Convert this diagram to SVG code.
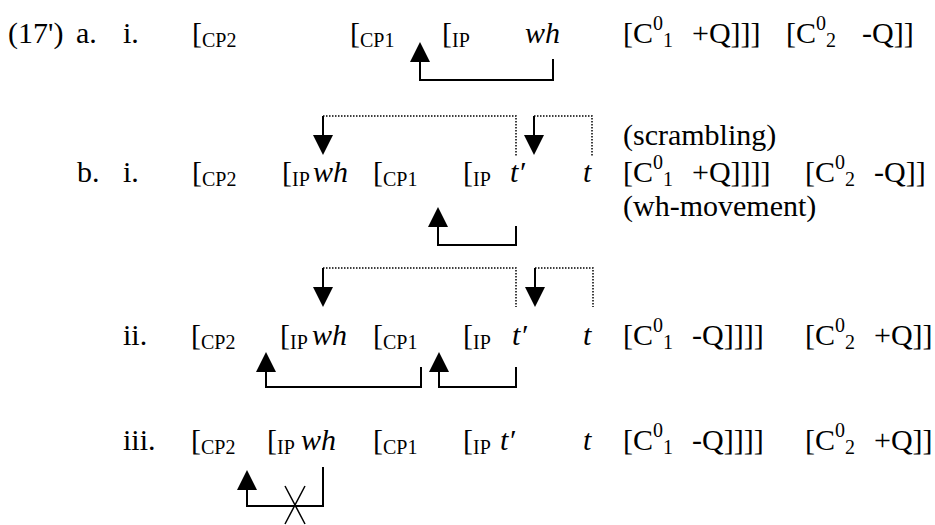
<svg xmlns="http://www.w3.org/2000/svg" width="935" height="525" viewBox="0 0 935 525">
<style>
.t{font-family:"Liberation Serif","Times New Roman",serif;font-size:30px;fill:#000}
.s{font-size:20px}
.i{font-style:italic}
.ln{stroke:#000;stroke-width:2;fill:none}
.dt{stroke:#000;stroke-width:1.5;stroke-dasharray:1.5 1.5;fill:none}
.x{stroke:#000;stroke-width:1.5;fill:none}
</style>
<defs>
<marker id="ah" markerUnits="userSpaceOnUse" markerWidth="20" markerHeight="20" viewBox="0 0 20 20" refX="0" refY="10" orient="auto">
<path d="M0,0 L20,10 L0,20 z" fill="#000"/>
</marker>
</defs>
<rect width="935" height="525" fill="#fff"/>
<g id="row-a" class="t">
<text x="8" y="43">(17')</text>
<text x="76" y="43">a.</text>
<text x="123" y="43">i.</text>
<text x="192" y="43">[<tspan class="s" dy="4">CP2</tspan></text>
<text x="350" y="43">[<tspan class="s" dy="4">CP1</tspan></text>
<text x="442" y="43">[<tspan class="s" dy="4">IP</tspan></text>
<text x="525" y="43" class="i">wh</text>
<text x="623" y="43">[C<tspan class="s" dy="-13">0</tspan><tspan class="s" dy="17">1</tspan><tspan dy="-4" dx="19">+Q]]]</tspan></text>
<text x="786" y="43">[C<tspan class="s" dy="-13">0</tspan><tspan class="s" dy="17">2</tspan><tspan dy="-4" dx="26">-Q]]</tspan></text>
</g>
<g id="row-b" class="t">
<text x="623" y="145">(scrambling)</text>
<text x="77" y="182">b.</text>
<text x="123" y="182">i.</text>
<text x="192" y="182">[<tspan class="s" dy="4">CP2</tspan></text>
<text x="282" y="182">[<tspan class="s" dy="4">IP</tspan></text>
<text x="313" y="182" class="i">wh</text>
<text x="373" y="182">[<tspan class="s" dy="4">CP1</tspan></text>
<text x="463" y="182">[<tspan class="s" dy="4">IP</tspan></text>
<text x="510" y="182" class="i">t′</text>
<text x="583" y="182" class="i">t</text>
<text x="623" y="182">[C<tspan class="s" dy="-13">0</tspan><tspan class="s" dy="17">1</tspan><tspan dy="-4" dx="19">+Q]]]]</tspan></text>
<text x="805" y="182">[C<tspan class="s" dy="-13">0</tspan><tspan class="s" dy="17">2</tspan><tspan dy="-4" dx="19">-Q]]</tspan></text>
<text x="623" y="216">(wh-movement)</text>
</g>
<g id="row-ii" class="t">
<text x="123" y="345">ii.</text>
<text x="191" y="345">[<tspan class="s" dy="4">CP2</tspan></text>
<text x="280" y="345">[<tspan class="s" dy="4">IP</tspan></text>
<text x="312" y="345" class="i">wh</text>
<text x="373" y="345">[<tspan class="s" dy="4">CP1</tspan></text>
<text x="463" y="345">[<tspan class="s" dy="4">IP</tspan></text>
<text x="512" y="345" class="i">t′</text>
<text x="583" y="345" class="i">t</text>
<text x="623" y="345">[C<tspan class="s" dy="-13">0</tspan><tspan class="s" dy="17">1</tspan><tspan dy="-4" dx="19">-Q]]]]</tspan></text>
<text x="805" y="345">[C<tspan class="s" dy="-13">0</tspan><tspan class="s" dy="17">2</tspan><tspan dy="-4" dx="19">+Q]]</tspan></text>
</g>
<g id="row-iii" class="t">
<text x="123" y="450">iii.</text>
<text x="191" y="450">[<tspan class="s" dy="4">CP2</tspan></text>
<text x="267" y="450">[<tspan class="s" dy="4">IP</tspan></text>
<text x="301" y="450" class="i">wh</text>
<text x="373" y="450">[<tspan class="s" dy="4">CP1</tspan></text>
<text x="463" y="450">[<tspan class="s" dy="4">IP</tspan></text>
<text x="500" y="450" class="i">t′</text>
<text x="583" y="450" class="i">t</text>
<text x="623" y="450">[C<tspan class="s" dy="-13">0</tspan><tspan class="s" dy="17">1</tspan><tspan dy="-4" dx="19">-Q]]]]</tspan></text>
<text x="805" y="450">[C<tspan class="s" dy="-13">0</tspan><tspan class="s" dy="17">2</tspan><tspan dy="-4" dx="19">+Q]]</tspan></text>
</g>
<g id="connectors">
<path class="ln" d="M553,59 V80 H420 V62" marker-end="url(#ah)"/>
<path class="dt" d="M323,116 H516 V157"/>
<path class="dt" d="M534,116 H592 V157"/>
<path class="ln" d="M323,116 V135" marker-end="url(#ah)"/>
<path class="ln" d="M534,116 V135" marker-end="url(#ah)"/>
<path class="ln" d="M516,226 V245 H438 V227" marker-end="url(#ah)"/>
<path class="dt" d="M323,268 H516 V307"/>
<path class="dt" d="M535,268 H593 V307"/>
<path class="ln" d="M323,268 V287" marker-end="url(#ah)"/>
<path class="ln" d="M535,268 V287" marker-end="url(#ah)"/>
<path class="ln" d="M421,367 V387 H266 V372" marker-end="url(#ah)"/>
<path class="ln" d="M516,367 V387 H439 V372" marker-end="url(#ah)"/>
<path class="ln" d="M323,467 V506 H247 V490" marker-end="url(#ah)"/>
<path class="x" d="M285,486 L305,524 M305,486 L285,524"/>
</g>
</svg>
